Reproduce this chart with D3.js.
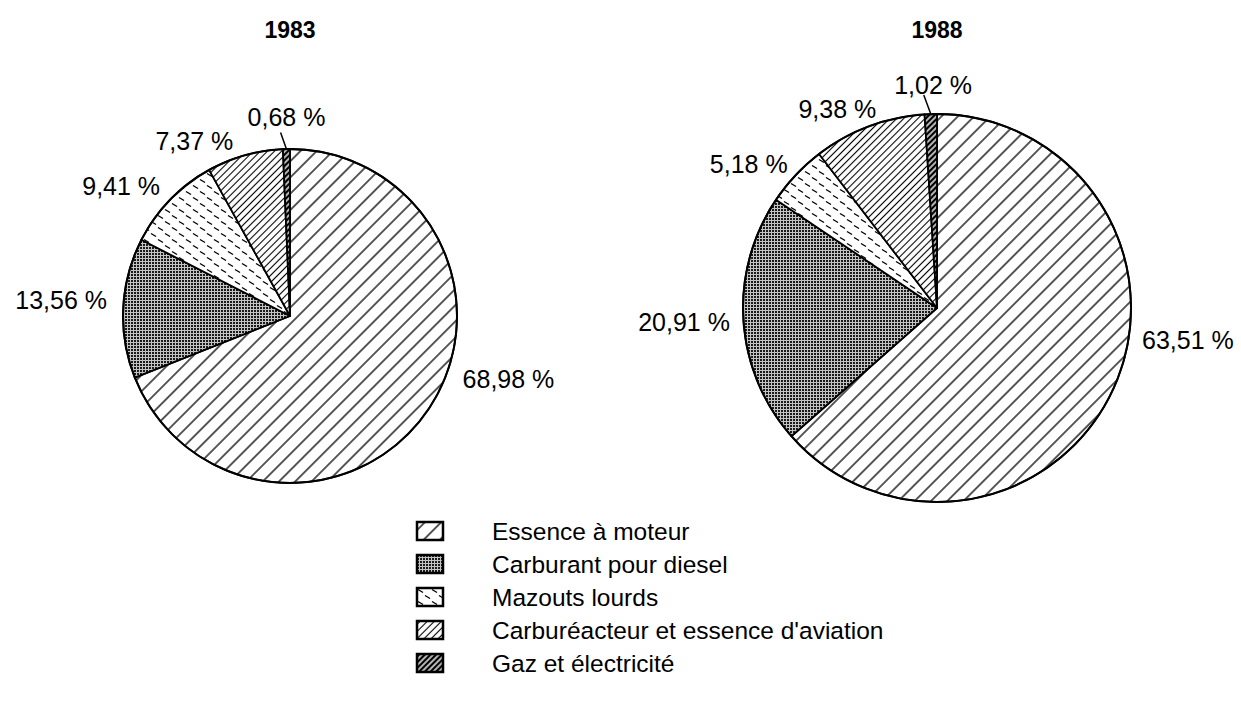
<!DOCTYPE html>
<html><head><meta charset="utf-8">
<script src="https://cdn.jsdelivr.net/npm/d3@7"></script>
<style>
body{margin:0;background:#fff}
text{font-family:"Liberation Sans",Arial,Helvetica,sans-serif;fill:#000}
</style>
</head><body>
<svg id="chart" width="1241" height="712"></svg>
<script>
// ---- data ----
const categories = ["Essence à moteur","Carburant pour diesel","Mazouts lourds","Carburéacteur et essence d'aviation","Gaz et électricité"];
const years = ["1983","1988"];
const values1983 = [68.98, 13.56, 9.41, 7.37, 0.68];
const values1988 = [63.51, 20.91, 5.18, 9.38, 1.02];

// ---- layout ----
const patternIds = ["p-essence","p-diesel","p-mazout","p-carbu","p-gaz"];
const pies = [
  {year: years[0], values: values1983, cx: 290, cy: 316, r: 167, labelAngles: [110, 275, 315, 342, 359], labelR: 1.10, smallR: 1.19},
  {year: years[1], values: values1988, cx: 937, cy: 308, r: 194, labelAngles: [99, 266, 314, 343, 359], labelR: 1.07, smallR: 1.15}
];
const fmt = v => d3.format(".2f")(v).replace(".", ",") + " %";

const svg = d3.select("#chart");
const defs = svg.append("defs");

function hatch(id, spacing, sw, angle) {
  const p = defs.append("pattern").attr("id", id).attr("patternUnits", "userSpaceOnUse")
    .attr("width", spacing).attr("height", spacing)
    .attr("patternTransform", `rotate(${angle})`);
  p.append("rect").attr("width", spacing).attr("height", spacing).attr("fill", "#fff");
  p.append("line").attr("x1", spacing/2).attr("x2", spacing/2).attr("y1", -1).attr("y2", spacing+1)
    .attr("stroke", "#000").attr("stroke-width", sw);
}
hatch("p-essence", 11.5, 1.3, 45);
hatch("p-carbu", 5, 1.1, 45);
hatch("p-gaz", 4, 2.6, 45);
// diesel: fine dot halftone (medium grey)
{
  const p = defs.append("pattern").attr("id", "p-diesel").attr("patternUnits", "userSpaceOnUse")
    .attr("width", 3).attr("height", 3);
  p.append("rect").attr("width", 3).attr("height", 3).attr("fill", "#c4c4c4");
  p.append("rect").attr("x", 0).attr("y", 0).attr("width", 2).attr("height", 2).attr("fill", "#1a1a1a");
}
// mazouts: staggered short dashes
{
  const p = defs.append("pattern").attr("id", "p-mazout").attr("patternUnits", "userSpaceOnUse")
    .attr("width", 14).attr("height", 12);
  p.append("rect").attr("width", 14).attr("height", 12).attr("fill", "#fff");
  p.append("line").attr("x1", 1).attr("y1", 1.5).attr("x2", 6).attr("y2", 4.5).attr("stroke", "#000").attr("stroke-width", 1.4);
  p.append("line").attr("x1", 8).attr("y1", 7.5).attr("x2", 13).attr("y2", 10.5).attr("stroke", "#000").attr("stroke-width", 1.4);
}

const pieGen = d3.pie().sort(null).value(d => d);
const toRad = a => a * Math.PI / 180;
const polar = (p, a, R) => [p.cx + R * Math.sin(a), p.cy - R * Math.cos(a)];

pies.forEach(p => {
  const g = svg.append("g");
  const arcs = pieGen(p.values);
  const arc = d3.arc().innerRadius(0).outerRadius(p.r);
  g.selectAll("path.slice").data(arcs).join("path")
    .attr("class", "slice")
    .attr("transform", `translate(${p.cx},${p.cy})`)
    .attr("d", arc)
    .attr("fill", (d, i) => `url(#${patternIds[i]})`)
    .attr("stroke", "#000").attr("stroke-width", 1.8).attr("stroke-linejoin", "round");
  g.append("circle").attr("cx", p.cx).attr("cy", p.cy).attr("r", p.r)
    .attr("fill", "none").attr("stroke", "#000").attr("stroke-width", 2);

  // title
  g.append("text").attr("x", p.cx).attr("y", 38).attr("text-anchor", "middle")
    .attr("font-size", 23).attr("font-weight", "bold").text(p.year);

  // labels
  arcs.forEach((d, i) => {
    const mid = (d.startAngle + d.endAngle) / 2;
    if (i === arcs.length - 1) {
      const [lx, ly] = polar(p, toRad(p.labelAngles[i]), p.r * p.smallR);
      g.append("text").attr("x", lx).attr("y", ly).attr("dy", "0.35em").attr("text-anchor", "middle")
        .attr("font-size", 25).text(fmt(d.data));
      const a0 = polar(p, mid, p.r);
      const a1 = polar(p, mid - 0.03, p.r * 1.1);
      g.append("line").attr("x1", a0[0]).attr("y1", a0[1]).attr("x2", a1[0]).attr("y2", a1[1])
        .attr("stroke", "#000").attr("stroke-width", 1.5);
    } else {
      const a = toRad(p.labelAngles[i]);
      const [lx, ly] = polar(p, a, p.r * p.labelR);
      g.append("text").attr("x", lx).attr("y", ly).attr("dy", "0.35em")
        .attr("text-anchor", Math.sin(a) > 0 ? "start" : "end")
        .attr("font-size", 25).text(fmt(d.data));
    }
  });
});

// legend
const leg = svg.append("g").attr("transform", "translate(417,522)");
const rowH = 33;
categories.forEach((c, i) => {
  const r = leg.append("g").attr("transform", `translate(0,${i * rowH})`);
  r.append("rect").attr("width", 26).attr("height", 18)
    .attr("fill", `url(#${patternIds[i]})`).attr("stroke", "#000").attr("stroke-width", 2.5);
  r.append("text").attr("x", 75).attr("y", 9).attr("dy", "0.36em").attr("font-size", 24.5).text(c);
});
</script>
</body></html>
